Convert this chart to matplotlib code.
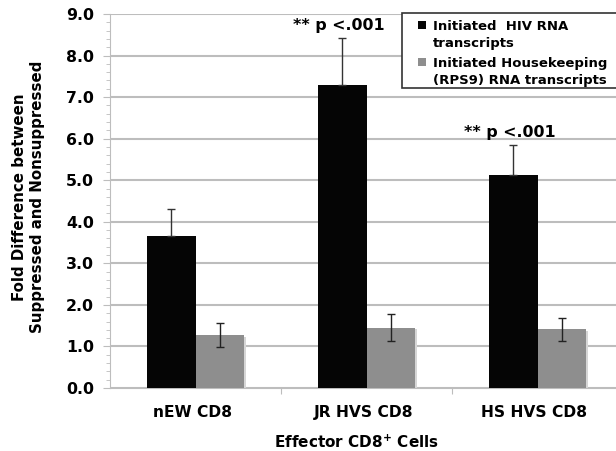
import numpy as np
import matplotlib.pyplot as plt
from matplotlib.patches import Rectangle
from matplotlib.ticker import MultipleLocator

# Fold difference of initiated transcripts, effector CD8 cells
categories = ["nEW CD8", "JR HVS CD8", "HS HVS CD8"]
hiv = [3.65, 7.30, 5.12]
hiv_err = [0.65, 1.12, 0.73]
rps9 = [1.27, 1.45, 1.41]
rps9_err = [0.29, 0.32, 0.27]
labels = ["Initiated  HIV RNA\ntranscripts", "Initiated Housekeeping\n(RPS9) RNA transcripts"]
annot = ["", "** p <.001", "** p <.001"]


def main():
    plt.rcParams['font.family'] = 'DejaVu Sans'
    plt.rcParams['font.weight'] = 'bold'

    fig = plt.figure(figsize=(6.16, 4.51), dpi=100)
    ax = fig.add_axes([110 / 616, 1 - 388 / 451, 506 / 616, 374 / 451])

    x = np.arange(len(categories))
    w = 0.283
    grid_c = "#bdbdbd"
    colors = ["#050505", "#8e8e8e"]

    # soft shadow behind gray bars
    ax.bar(x + w / 2 + 0.014, rps9, w, bottom=-0.04, color="#d6d6d6", zorder=2)
    ax.bar(x - w / 2, hiv, w, color=colors[0], zorder=3)
    ax.bar(x + w / 2, rps9, w, color=colors[1], zorder=3)

    ax.errorbar(x - w / 2, hiv, yerr=[np.zeros(3), hiv_err], fmt="none",
                ecolor="#333333", elinewidth=1, capsize=3, zorder=4)
    ax.errorbar(x + w / 2, rps9, yerr=rps9_err, fmt="none",
                ecolor="#222222", elinewidth=1, capsize=3, zorder=4)

    for xi, yi, e, t in zip(x, hiv, hiv_err, annot):
        if t:
            ax.text(xi - w / 2 - 0.02, yi + e + 0.2, t, ha="center", va="baseline",
                    fontsize=11.4, fontweight="bold")

    ax.set_xlim(-0.5, -0.5 + 506 / 171)
    ax.set_ylim(0, 9)
    ax.yaxis.set_minor_locator(MultipleLocator(0.2))
    yt = np.arange(0, 9.1, 1)
    ax.set_yticks(yt)
    ax.set_yticklabels([f"{v:.1f}" for v in yt], fontsize=11.3, fontweight="bold")
    ax.set_xticks([0.5, 1.5])
    ax.set_xticklabels([])
    ax.tick_params(axis="x", length=4, color=grid_c)
    ax.tick_params(axis="y", which="major", length=5, color=grid_c, pad=6.5)
    ax.tick_params(axis="y", which="minor", length=3, color=grid_c)
    for xi, c in zip(x, categories):
        ax.text(xi - 0.02, -0.58, c, ha="center", va="center", fontsize=11.2, fontweight="bold")

    ax.grid(axis="y", color=grid_c, linewidth=1.5, zorder=0)
    ax.set_axisbelow(True)
    for s in ["top", "right"]:
        ax.spines[s].set_visible(False)
    ax.spines["left"].set_color(grid_c)
    ax.spines["bottom"].set_color(grid_c)

    fig.text(29 / 616, 1 - 197 / 451, "Fold Difference between\nSuppressed and Nonsuppressed",
             rotation=90, ha="center", va="center", multialignment="center",
             fontsize=10.8, fontweight="bold", linespacing=1.25)
    fig.text(357 / 616, 1 - 442 / 451, "Effector CD8$^{\\mathbf{+}}$ Cells",
             ha="center", va="center", fontsize=11, fontweight="bold")

    # legend box drawn by hand: square marker sits on the first line of each entry
    fig.add_artist(Rectangle((402 / 616, 1 - 88 / 451), 230 / 616, 75 / 451,
                             transform=fig.transFigure, facecolor="white",
                             edgecolor="#333333", linewidth=1.2, zorder=5))
    line_y = 25
    for lab, col in zip(labels, colors):
        fig.add_artist(Rectangle((418 / 616, 1 - (line_y + 4) / 451), 8 / 616, 8 / 451,
                                 transform=fig.transFigure, facecolor=col,
                                 edgecolor="none", zorder=6))
        for part in lab.split("\n"):
            fig.text(433 / 616, 1 - line_y / 451, part, ha="left", va="center_baseline",
                     fontsize=9.5, fontweight="bold", zorder=6)
            line_y += 17.5
        line_y += 1.5

    fig.savefig("out.png", dpi=100)


if __name__ == "__main__":
    main()
